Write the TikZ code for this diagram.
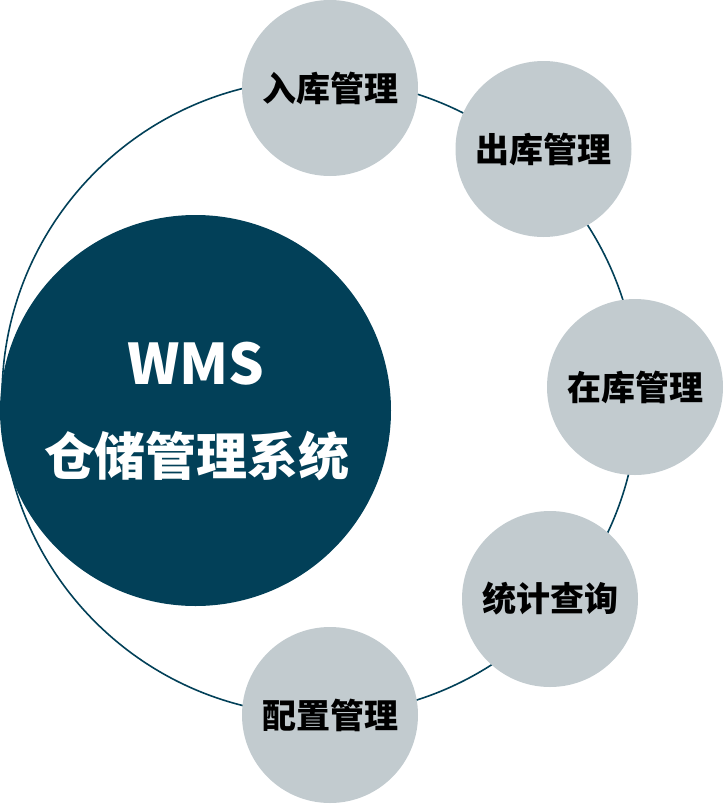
\documentclass[tikz,border=0pt]{standalone}
\usepackage{fontspec}
\setmainfont{Noto Sans CJK SC}
\definecolor{wmsblue}{RGB}{2,64,88}
\definecolor{modgray}{RGB}{194,203,207}
\tikzset{
  % Outer ring
  ringline/.style={draw=wmsblue, line width=1.6pt},
  % Centre disc and its title
  coredisc/.style={circle, fill=wmsblue, minimum size=391pt, inner sep=0pt},
  coretitle/.style={text=white, inner sep=0pt, font=\bfseries\fontsize{51}{60}\selectfont},
  % Module discs
  moduledisc/.style={circle, fill=modgray, minimum size=176pt, inner sep=0pt, font=\bfseries\fontsize{34}{40}\selectfont},
}

\begin{document}
\begin{tikzpicture}[x=1pt, y=-1pt]

      \useasboundingbox (0,0) rectangle (724,804);

      \coordinate (ringcenter) at (320,397);
      \draw[ringline] (ringcenter) circle [radius=318pt];

      \node[coredisc] (core) at (195.5,410.5) {};
      \node[coretitle, font=\bfseries\fontsize{56}{60}\selectfont] (wms) at (196,364) {WMS};
      \node[coretitle] (wmsname) at (197,456) {仓储管理系统};

      \node[moduledisc] (inbound) at (330,88) {入库管理};
      \node[moduledisc] (outbound) at (543.5,149) {出库管理};
      \node[moduledisc] (stock) at (635,387) {在库管理};
      \node[moduledisc] (stats) at (550,599) {统计查询};
      \node[moduledisc] (config) at (330,715) {配置管理};

    \end{tikzpicture}
\end{document}
